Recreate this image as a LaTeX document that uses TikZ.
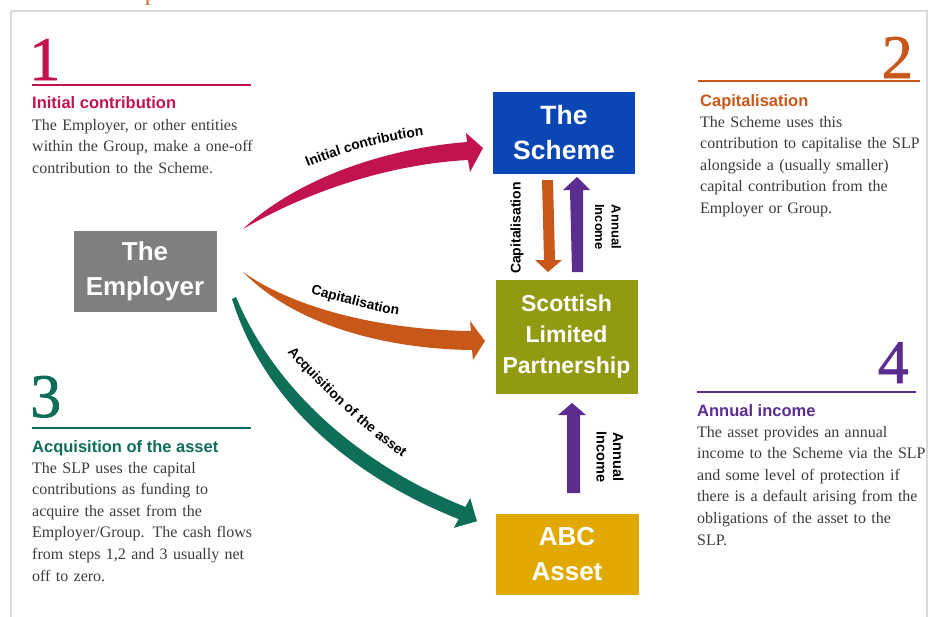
\documentclass[tikz,border=0pt]{standalone}
\usepackage{fontspec}
\setmainfont{Liberation Serif}
\setsansfont{Liberation Sans}
\newfontfamily\stepnumfont[FakeBold=1.2]{Liberation Serif}
\usetikzlibrary{decorations.text}
\definecolor{crimson}{HTML}{C1144E}
\definecolor{rust}{HTML}{C8581A}
\definecolor{pine}{HTML}{0F6E58}
\definecolor{violet}{HTML}{5B2D8E}
\definecolor{royal}{HTML}{0A47B4}
\definecolor{olive}{HTML}{929A12}
\definecolor{gold}{HTML}{E1A900}
\definecolor{slate}{HTML}{7F7F7F}
\definecolor{bodygray}{HTML}{3C3C3C}
\definecolor{framegray}{HTML}{DADADA}
\newcommand{\lblfont}{\sffamily\bfseries\fontsize{13.8}{16}\selectfont}
\begin{document}
\begin{tikzpicture}[x=1pt,y=-1pt,
  box/.style={rectangle, inner sep=0pt, text=white, align=center},
  num/.style={inner sep=0pt, font=\stepnumfont\fontsize{62}{62}\selectfont},
  head/.style={anchor=base west, inner sep=0pt, font=\sffamily\bfseries\fontsize{16.5}{20}\selectfont},
  body/.style={anchor=base west, inner sep=0pt, text width=260pt, align=left, text=bodygray, font=\fontsize{16}{21.6}\selectfont},
  lbl/.style={inner sep=0pt, font=\sffamily\bfseries\fontsize{13.5}{16}\selectfont},
  curvelabel/.style={decorate, decoration={text along path, text align=center, text={|\lblfont|#1}}}
]
\useasboundingbox (0,0) rectangle (931,616);
\fill[white] (0,0) rectangle (931,616);

% title descender and frame
\node[anchor=base west, inner sep=0pt, text=rust, font=\fontsize{22}{22}\selectfont] (ttl) at (145,0) {p};
\draw[framegray, line width=2.5pt] (11,630) -- (11,11) -- (927,11) -- (927,630);

% entity boxes
\node[box, fill=slate, minimum width=143pt, minimum height=81pt,
      font=\sffamily\bfseries\fontsize{26}{35}\selectfont] (emp) at (145,271) {The\\Employer};
\node[box, fill=royal, minimum width=142pt, minimum height=82pt,
      font=\sffamily\bfseries\fontsize{26.5}{35}\selectfont] (sch) at (564,133) {The\\Scheme};
\node[box, fill=olive, minimum width=142pt, minimum height=114pt,
      font=\sffamily\bfseries\fontsize{23}{31}\selectfont] (slp) at (566.5,337) {Scottish\\Limited\\Partnership};
\node[box, fill=gold, minimum width=143pt, minimum height=81pt,
      font=\sffamily\bfseries\fontsize{26}{35}\selectfont] (abc) at (567,554) {ABC\\Asset};

% curved tapered arrows from the employer
\fill[crimson] (243,229) .. controls (300,176) and (390,148) .. (467,142)
   -- (466,133) -- (483,148) -- (470,172) -- (468,160)
   .. controls (392,164) and (310,190) .. (243,229) -- cycle;
\fill[rust] (243,272) .. controls (300,312) and (390,330) .. (471,331)
   -- (470,321) -- (485,341) -- (473,360) -- (472,350)
   .. controls (385,349) and (295,325) .. (243,272) -- cycle;
\fill[pine] (236,297) .. controls (275,390) and (360,465) .. (465.4,506.9)
   -- (470.2,498.1) -- (476.9,521.2) -- (453.8,527.9) -- (458.6,519.1)
   .. controls (355,478) and (265,405) .. (232,299) -- cycle;

% labels that follow the curved arrows
\path[curvelabel={Initial contribution}] (300,170) .. controls (343,152) and (388,139) .. (432,135);
\path[curvelabel={Capitalisation}] (305,292) .. controls (337,301) and (370,311) .. (404,316);
\path[curvelabel={Acquisition of the asset}] (281,346) .. controls (320,388) and (362,430) .. (410,463);

% vertical arrows between the boxes
\fill[rust] (542,180) -- (553,180) -- (555,260) -- (562,260) -- (548,272) -- (535,260) -- (544,260) -- cycle;
\fill[violet] (572,272) -- (583,272) -- (583,190) -- (590,190) -- (577,177) -- (563,190) -- (570,190) -- cycle;
\fill[violet] (567,493) -- (580,493) -- (580,415) -- (586,415) -- (572,403) -- (558,415) -- (567,415) -- cycle;

\node[lbl, rotate=90, font=\sffamily\bfseries\fontsize{14}{16}\selectfont] (vcap) at (517,228) {Capitalisation};
\node[lbl, rotate=-90, align=center, font=\sffamily\bfseries\fontsize{13}{16.5}\selectfont] (vinc1) at (608,227) {Annual\\Income};
\node[lbl, rotate=-90, align=center, font=\sffamily\bfseries\fontsize{14.5}{16.5}\selectfont] (vinc2) at (610,457) {Annual\\Income};

% step 1
\node[num, anchor=base west, text=crimson] (n1) at (29,80) {1};
\draw[crimson, line width=2pt] (32,85) -- (251,85);
\node[head, text=crimson] (h1) at (32,108) {Initial contribution};
\node[body] (b1) at (32,130) {The Employer, or other entities\\within the Group, make a one-off\\contribution to the Scheme.};

% step 2
\node[num, anchor=base east, text=rust] (n2) at (913,78) {2};
\draw[rust, line width=2pt] (698,81) -- (920,81);
\node[head, text=rust] (h2) at (700,106) {Capitalisation};
\node[body] (b2) at (700,127) {The Scheme uses this\\contribution to capitalise the SLP\\alongside a (usually smaller)\\capital contribution from the\\Employer or Group.};

% step 3
\node[num, anchor=base west, text=pine] (n3) at (30,417) {3};
\draw[pine, line width=2pt] (32,428) -- (251,428);
\node[head, text=pine] (h3) at (32,452) {Acquisition of the asset};
\node[body] (b3) at (32,473) {The SLP uses the capital\\contributions as funding to\\acquire the asset from the\\Employer/Group. The cash flows\\from steps 1,2 and 3 usually net\\off to zero.};

% step 4
\node[num, anchor=base east, text=violet] (n4) at (909,383) {4};
\draw[violet, line width=2pt] (697,392) -- (916,392);
\node[head, text=violet] (h4) at (697,416) {Annual income};
\node[body] (b4) at (697,437) {The asset provides an annual\\income to the Scheme via the SLP\\and some level of protection if\\there is a default arising from the\\obligations of the asset to the\\SLP.};
\end{tikzpicture}
\end{document}
